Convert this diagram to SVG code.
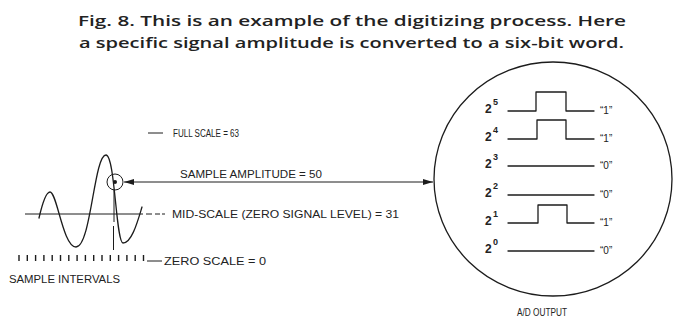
<svg xmlns="http://www.w3.org/2000/svg" width="685" height="320" viewBox="0 0 685 320">
<style>
.ln{fill:none;stroke:#1c1c1c;stroke-width:1.3;stroke-linecap:round;stroke-linejoin:round}
.th{fill:none;stroke:#1c1c1c;stroke-width:1}
.tk{fill:none;stroke:#1c1c1c;stroke-width:1.4}
.lbl{font-family:"Liberation Sans",Arial,sans-serif;font-size:10px;fill:#222}
.ttl{font-family:"Open Sans","Liberation Sans",Arial,sans-serif;font-size:15px;font-weight:600;fill:#222}
.bit{font-family:"Liberation Sans",Arial,sans-serif;font-size:12px;font-weight:bold;fill:#222}
.sup{font-family:"Liberation Sans",Arial,sans-serif;font-size:9px;font-weight:bold;fill:#222}
.q{font-family:"Liberation Sans",Arial,sans-serif;font-size:10px;fill:#222}
</style>
<defs>
<marker id="ah" viewBox="0 0 10 6" refX="10" refY="3" markerWidth="10" markerHeight="6" markerUnits="userSpaceOnUse" orient="auto-start-reverse">
<path d="M0,0 L10,3 L0,6 z" fill="#1c1c1c"/>
</marker>
</defs>
<rect width="685" height="320" fill="#ffffff"/>
<g id="title">
<text class="ttl" x="78" y="26" textLength="548" lengthAdjust="spacingAndGlyphs">Fig. 8. This is an example of the digitizing process. Here</text>
<text class="ttl" x="79" y="48" textLength="545" lengthAdjust="spacingAndGlyphs">a specific signal amplitude is converted to a six-bit word.</text>
</g>
<g id="signal">
<path class="ln" d="M39,218 C42,205 46,192 50,192 C57,192 63,247 76,247 C91,247 94,155 106,155 C115,155 116,243 123,243 C132,243 138,220 142,207"/>
<line class="th" x1="25" y1="214" x2="143" y2="214"/>
<path class="th" d="M146,214 H152 M155,214 H160 M162,214 H165"/>
<circle class="th" cx="115" cy="182" r="8"/>
<circle cx="115" cy="182" r="2" fill="#1c1c1c"/>
<path class="th" d="M114,190 V222 M113.5,226 V250"/>
</g>
<g id="ticks">
<path class="tk" d="M19,255 V261 M27.3,255 V261 M35.6,255 V261 M43.9,255 V261 M52.2,255 V261 M60.5,255 V261 M68.8,255 V261 M77.1,255 V261 M85.4,255 V261 M93.7,255 V261 M102,255 V261 M110.3,255 V261 M118.6,255 V261 M126.9,255 V261 M135.2,255 V261 M143.5,255 V261"/>
</g>
<g id="scale-labels">
<line class="th" x1="148" y1="133" x2="163" y2="133"/>
<text class="lbl" x="173" y="137" textLength="66" lengthAdjust="spacingAndGlyphs">FULL SCALE = 63</text>
<text class="lbl" x="180" y="178" textLength="142" lengthAdjust="spacingAndGlyphs">SAMPLE AMPLITUDE = 50</text>
<text class="lbl" x="172" y="218" textLength="227" lengthAdjust="spacingAndGlyphs">MID-SCALE (ZERO SIGNAL LEVEL) = 31</text>
<line class="th" x1="147" y1="261" x2="162" y2="261"/>
<text class="lbl" x="164" y="265" textLength="102" lengthAdjust="spacingAndGlyphs">ZERO SCALE = 0</text>
<text class="lbl" x="9" y="283" textLength="111" lengthAdjust="spacingAndGlyphs">SAMPLE INTERVALS</text>
</g>
<g id="connectors">
<line class="th" x1="124" y1="182" x2="433" y2="182" marker-start="url(#ah)" marker-end="url(#ah)"/>
</g>
<g id="ad-output">
<ellipse class="ln" cx="553" cy="179" rx="119" ry="117"/>
<text class="lbl" x="517" y="316" textLength="50" lengthAdjust="spacingAndGlyphs">A/D OUTPUT</text>
</g>
<g id="bits">
<path class="ln" d="M508,111 H536 V92 H566 V111 H594"/>
<path class="ln" d="M508,139 H537 V120 H566 V139 H594"/>
<path class="ln" d="M508,166 H594"/>
<path class="ln" d="M508,195 H594"/>
<path class="ln" d="M508,223 H538 V205 H567 V223 H594"/>
<path class="ln" d="M508,251 H594"/>
<text class="bit" x="485" y="113">2</text><text class="sup" x="493" y="105">5</text>
<text class="bit" x="485" y="141">2</text><text class="sup" x="493" y="133">4</text>
<text class="bit" x="485" y="168">2</text><text class="sup" x="493" y="160">3</text>
<text class="bit" x="485" y="197">2</text><text class="sup" x="493" y="189">2</text>
<text class="bit" x="485" y="225">2</text><text class="sup" x="493" y="217">1</text>
<text class="bit" x="485" y="253">2</text><text class="sup" x="493" y="245">0</text>
<text class="q" x="600" y="114">“1”</text>
<text class="q" x="600" y="142">“1”</text>
<text class="q" x="600" y="169">“0”</text>
<text class="q" x="600" y="198">“0”</text>
<text class="q" x="600" y="226">“1”</text>
<text class="q" x="600" y="254">“0”</text>
</g>
</svg>
